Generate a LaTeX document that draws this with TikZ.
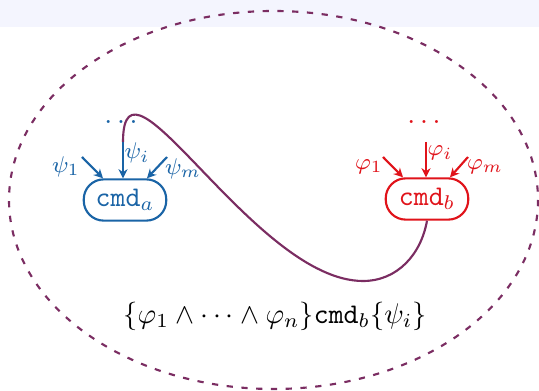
\documentclass[tikz,border=0pt]{standalone}
\usetikzlibrary{arrows.meta,calc}
\definecolor{cblue}{HTML}{1A64A6}
\definecolor{cred}{HTML}{E0131A}
\definecolor{cpurple}{HTML}{7B2D62}
\definecolor{band}{HTML}{F4F5FE}
\tikzset{
  cmdbox/.style={draw, line width=0.75pt, rounded corners=7pt, minimum width=29pt, minimum height=14.5pt, inner sep=3pt, font=\normalsize},
  inarrow/.style={line width=0.75pt, -{Stealth[length=3.2pt,width=3.2pt]}},
  lbl/.style={font=\footnotesize, inner sep=0pt},
}
\begin{document}
\begin{tikzpicture}[x=0.3515pt,y=-0.3515pt]
\useasboundingbox (0,0) rectangle (539,391);
\fill[band] (0,0) rectangle (539,27);
\draw[cpurple, line width=0.75pt, dash pattern=on 2.2pt off 3pt] (273.5,200) ellipse [x radius=264.5, y radius=189];

% command a
\node[cmdbox, cblue] (a) at (125,200) {$\texttt{cmd}_a$};
\coordinate (ai) at (123,142);
\coordinate (a1) at (82,157);
\coordinate (am) at (167,157);
\draw[inarrow, cblue] (a1) -- ($(a.north)+(-22,0)$);
\draw[inarrow, cblue] (ai) -- (ai |- a.north);
\draw[inarrow, cblue] (am) -- ($(a.north)+(22,0)$);
\node[lbl, cblue] (la1) at (66,167) {$\psi_1$};
\node[lbl, cblue] (lai) at (137,153) {$\psi_i$};
\node[lbl, cblue] (lam) at (183,169) {$\psi_m$};
\node[cblue, inner sep=0pt] (da) at (121,122) {$\dots$};

% command b
\node[cmdbox, cred] (b) at (427,199) {$\texttt{cmd}_b$};
\coordinate (bi) at (426,142);
\coordinate (b1) at (383,157);
\coordinate (bm) at (468,157);
\draw[inarrow, cred] (b1) -- ($(b.north)+(-24,0)$);
\draw[inarrow, cred] (bi) -- (bi |- b.north);
\draw[inarrow, cred] (bm) -- ($(b.north)+(23,0)$);
\node[lbl, cred] (lb1) at (369,167) {$\varphi_1$};
\node[lbl, cred] (lbi) at (440,153) {$\varphi_i$};
\node[lbl, cred] (lbm) at (485,167) {$\varphi_m$};
\node[cred, inner sep=0pt] (db) at (424,122) {$\dots$};

% connecting curve
\coordinate (low) at (363,281);
\draw[cpurple, line width=0.75pt] (b.south) to[out=-100,in=0] (low) to[out=180,in=90] (ai);

\node (f) at (275,316) {$\{\varphi_1\wedge\cdots\wedge\varphi_n\}\texttt{cmd}_b\{\psi_i\}$};
\end{tikzpicture}
\end{document}
